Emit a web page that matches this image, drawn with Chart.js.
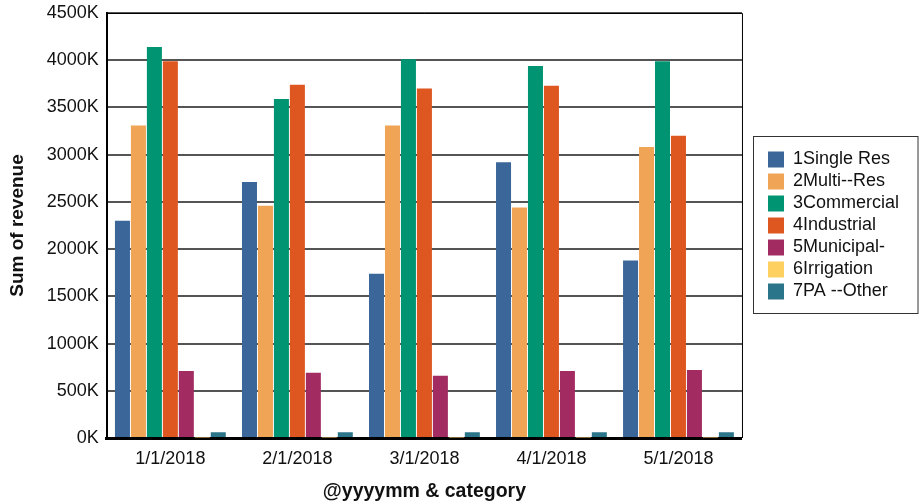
<!DOCTYPE html>
<html>
<head>
<meta charset="utf-8">
<script src="https://cdn.jsdelivr.net/npm/chart.js@4/dist/chart.umd.min.js"></script>
<style>
  html, body { margin: 0; padding: 0; background: #fff; }
  #wrap { width: 919px; height: 504px; position: relative; }
</style>
</head>
<body>
<div id="wrap"><canvas id="revenueChart"></canvas></div>
<script>
// category labels (x axis)
const months = ['1/1/2018', '2/1/2018', '3/1/2018', '4/1/2018', '5/1/2018'];

// revenue per category
const singleRes  = [2300000, 2710000, 1740000, 2920000, 1880000];
const multiRes   = [3310000, 2460000, 3310000, 2440000, 3080000];
const commercial = [4140000, 3590000, 4010000, 3940000, 3990000];
const industrial = [3990000, 3740000, 3700000, 3730000, 3200000];
const municipal  = [710000, 690000, 660000, 710000, 720000];
const irrigation = [6000, 6000, 6000, 6000, 6000];
const paOther    = [60000, 60000, 60000, 60000, 60000];

const yTicks = [0, 500000, 1000000, 1500000, 2000000, 2500000, 3000000, 3500000, 4000000, 4500000];

const FONT = 'Arial, "Liberation Sans", sans-serif';

// legend sits next to the plot, vertically centred on it, with a frame
const frames = {
  id: 'frames',
  afterLayout(chart) {
    const lg = chart.legend, a = chart.chartArea;
    const w = lg.right - lg.left;
    lg.left = a.right + 22;
    lg.right = lg.left + w;
    lg.top = a.top;
    lg.bottom = a.bottom;
  },
  afterDraw(chart) {
    const ctx = chart.ctx;
    const a = chart.chartArea;
    ctx.save();
    ctx.strokeStyle = '#000';
    ctx.lineWidth = 1;
    ctx.beginPath();
    ctx.moveTo(a.left, a.top + 0.5);
    ctx.lineTo(a.right + 0.5, a.top + 0.5);
    ctx.lineTo(a.right + 0.5, a.bottom);
    ctx.stroke();

    const hit = chart.legend.legendHitBoxes;
    if (hit && hit.length) {
      const minX = Math.min(...hit.map(h => h.left));
      const minY = Math.min(...hit.map(h => h.top));
      const maxY = Math.max(...hit.map(h => h.top + h.height));
      const x0 = Math.round(minX - 15) + 0.5, y0 = Math.round(minY - 15) + 0.5;
      ctx.strokeStyle = '#333';
      ctx.strokeRect(x0, y0, chart.width - x0 - 1, Math.round(maxY - minY + 27));
    }
    ctx.restore();
  }
};

const mk = (label, data, color) => ({ label, data, backgroundColor: color, borderWidth: 0 });

new Chart(document.getElementById('revenueChart'), {
  type: 'bar',
  data: {
    labels: months,
    datasets: [
      mk('1Single Res', singleRes, '#3a6699'),
      mk('2Multi--Res', multiRes, '#efa456'),
      mk('3Commercial', commercial, '#009473'),
      mk('4Industrial', industrial, '#de5720'),
      mk('5Municipal-', municipal, '#a22c62'),
      mk('6Irrigation', irrigation, '#fdd05f'),
      mk('7PA --Other', paOther, '#2a7589')
    ]
  },
  options: {
    responsive: true,
    maintainAspectRatio: false,
    animation: false,
    layout: { padding: { top: 13, right: 32, left: 6, bottom: 1 } },
    datasets: {
      bar: { categoryPercentage: 0.88, barPercentage: 0.94 }
    },
    plugins: {
      tooltip: { enabled: false },
      legend: {
        position: 'right',
        align: 'center',
        labels: {
          boxWidth: 16,
          boxHeight: 16,
          padding: 4,
          color: '#111',
          font: { family: FONT, size: 18 }
        }
      }
    },
    scales: {
      x: {
        grid: { display: false, drawTicks: false },
        border: { display: true, color: '#000', width: 3 },
        ticks: { color: '#111', padding: 10, font: { family: FONT, size: 18 } },
        title: {
          display: true,
          text: '@yyyymm & category',
          color: '#111',
          padding: { top: 0, bottom: 0 },
          font: { family: FONT, size: 19.5, weight: 'bold' }
        }
      },
      y: {
        min: 0,
        max: 4500000,
        afterBuildTicks(axis) { axis.ticks = yTicks.map(v => ({ value: v })); },
        afterFit(axis) { axis.paddingTop = 0; },
        grid: { color: '#555', lineWidth: 2, drawTicks: false },
        border: { display: true, color: '#000', width: 2 },
        ticks: {
          color: '#111',
          padding: 8,
          font: { family: FONT, size: 18 },
          callback: v => (v / 1000) + 'K'
        },
        title: {
          display: true,
          text: 'Sum of revenue',
          color: '#111',
          padding: { top: 0, bottom: 10 },
          font: { family: FONT, size: 19, weight: 'bold' }
        }
      }
    }
  },
  plugins: [frames]
});
</script>
</body>
</html>
